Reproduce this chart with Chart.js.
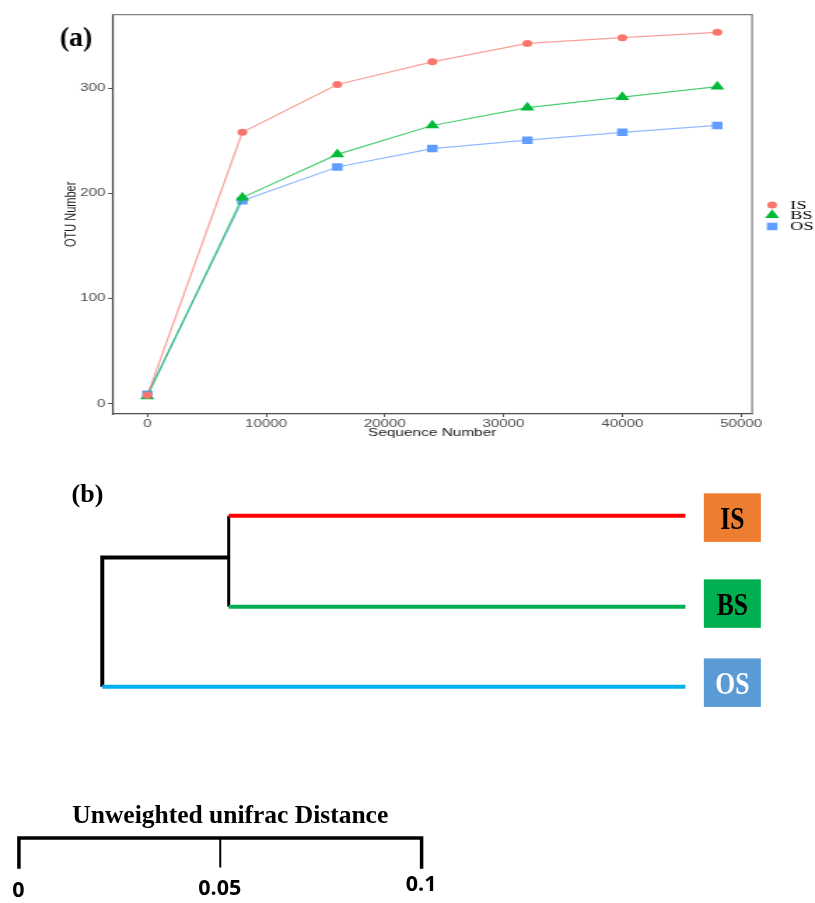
<!DOCTYPE html>
<html>
<head>
<meta charset="utf-8">
<script src="https://cdn.jsdelivr.net/npm/chart.js@4.4.1/dist/chart.umd.min.js"></script>
<style>
  html, body { margin: 0; padding: 0; background: #fff; }
  body { width: 815px; height: 903px; position: relative; overflow: hidden; }
  /* panel (a) is stretched sideways in the original figure */
  #wrapA { position: absolute; left: 0; top: 0; width: 582px; height: 450px; transform: scaleX(1.4003); transform-origin: 0 0; }
  #wrapB { position: absolute; left: 0; top: 450px; width: 815px; height: 453px; }
</style>
</head>
<body>
<div id="wrapA"><canvas id="rarefaction" width="582" height="450"></canvas></div>
<div id="wrapB"><canvas id="cluster" width="815" height="453"></canvas></div>
<script>
// --- (a) rarefaction curves ---
const seqNumbers = [0, 8000, 16000, 24000, 32000, 40000, 48000];
const otuIS = [8, 258, 303.5, 325, 342.5, 348, 353];
const otuBS = [7, 196, 237, 264.5, 281.5, 291.5, 301.5];
const otuOS = [9, 193, 225, 242.5, 250.5, 258, 264.5];
const sampleNames = ['IS', 'BS', 'OS'];
const xTickValues = [0, 10000, 20000, 30000, 40000, 50000];
const yTickValues = [0, 100, 200, 300];

// --- (b) clustering tree, unweighted unifrac distance ---
const rootX = 0.0207;                 // where the tree starts on the distance axis
const joinX = rootX + 0.0314;         // IS + BS join
const leafEnd = [joinX + 0.1134, joinX + 0.1134, rootX + 0.1448]; // IS, BS, OS
const leafRows = [1, 2.064, 3];       // IS, BS, OS
const joinRow = 1.49;
const scaleBarTicks = [0, 0.05, 0.1];
const scaleBarLabels = ['0', '0.05', '0.1'];
const scaleBarRow = 4.77;
const scaleBarTitle = 'Unweighted unifrac Distance';

const colIS = '#F8766D', colBS = '#00BA38', colOS = '#619CFF';
const STRETCH = 1.4003;

function fade(hex, a) {
    const n = parseInt(hex.slice(1), 16);
    return 'rgba(' + (n >> 16) + ',' + ((n >> 8) & 255) + ',' + (n & 255) + ',' + a + ')';
}

function curve(label, values, color, style, radius) {
    return {
        label: label,
        data: values.map((v, i) => ({ x: seqNumbers[i], y: v })),
        borderColor: fade(color, 0.7),
        backgroundColor: color,
        pointBackgroundColor: color,
        pointBorderWidth: 0,
        pointStyle: style,
        pointRadius: radius,
        borderWidth: 1.2,
        tension: 0
    };
}

const frameA = {
    id: 'frameA',
    afterDraw(chart) {
        const ctx = chart.ctx, a = chart.chartArea;
        ctx.save();
        // top + right border
        ctx.strokeStyle = '#7f7f7f';
        ctx.lineWidth = 1.2;
        ctx.beginPath();
        ctx.moveTo(a.left, a.top);
        ctx.lineTo(a.right, a.top);
        ctx.lineTo(a.right, a.bottom);
        ctx.stroke();

        // legend (drawn by hand, tight like the original)
        const legY = [205, 215, 226.5];
        chart.data.datasets.forEach((ds, i) => {
            ctx.fillStyle = ds.pointBackgroundColor;
            Chart.helpers.drawPoint(ctx, { pointStyle: ds.pointStyle, radius: ds.pointRadius, rotation: 0, borderWidth: 0 }, 551.4, legY[i]);
            ctx.fillStyle = '#000';
            ctx.font = '13px "Liberation Serif"';
            ctx.textAlign = 'left';
            ctx.textBaseline = 'middle';
            ctx.fillText(ds.label, 564.3, legY[i] + 0.5);
        });

        // panel letter, not stretched
        ctx.translate(54.3, 39);
        ctx.scale(1 / STRETCH, 1);
        ctx.font = 'bold 28px "Liberation Serif"';
        ctx.textAlign = 'center';
        ctx.textBaseline = 'middle';
        ctx.fillText('(a)', 0, 0);
        ctx.restore();
    }
};

new Chart(document.getElementById('rarefaction'), {
    type: 'line',
    data: {
        datasets: [
            curve(sampleNames[0], otuIS, colIS, 'circle', 3.5),
            curve(sampleNames[1], otuBS, colBS, 'triangle', 5.8),
            curve(sampleNames[2], otuOS, colOS, 'rect', 5.3)
        ]
    },
    options: {
        responsive: false,
        animation: false,
        events: [],
        layout: { padding: { top: 14.7, right: 44.9, left: 0, bottom: 0 } },
        plugins: { legend: { display: false }, tooltip: { enabled: false } },
        scales: {
            x: {
                type: 'linear', min: -2950, max: 50930,
                afterFit: (s) => { s.height = 36; },
                afterBuildTicks: (s) => { s.ticks = xTickValues.map(v => ({ value: v })); },
                border: { display: true, color: '#4d4d4d', width: 1.2 },
                grid: { display: true, drawOnChartArea: false, drawTicks: true, tickLength: 3, color: '#4d4d4d' },
                ticks: {
                    autoSkip: false, maxRotation: 0, padding: 1,
                    color: '#4d4d4d', font: { family: 'Liberation Sans', size: 10.8 },
                    callback: (v) => String(v)
                },
                title: {
                    display: true, text: 'Sequence Number', color: '#1a1a1a',
                    font: { family: 'Liberation Sans', size: 11 }, padding: { top: 0, bottom: 10.4 }
                }
            },
            y: {
                min: -9.8, max: 369.8,
                afterFit: (s) => { s.width = 80.2; },
                afterBuildTicks: (s) => { s.ticks = yTickValues.map(v => ({ value: v })); },
                border: { display: true, color: '#4d4d4d', width: 1.2 },
                grid: { display: true, drawOnChartArea: false, drawTicks: true, tickLength: 3, color: '#4d4d4d' },
                ticks: {
                    padding: 2,
                    color: '#4d4d4d', font: { family: 'Liberation Sans', size: 10.8 },
                    callback: (v) => String(v)
                },
                title: {
                    display: true, text: 'OTU Number', color: '#1a1a1a',
                    font: { family: 'Liberation Sans', size: 11 }, padding: { top: 44.8, bottom: 0 }
                }
            }
        }
    },
    plugins: [frameA]
});

// --- (b) ---
function seg(points, color, width) {
    return {
        data: points.map(p => ({ x: p[0], y: p[1] })),
        showLine: true, borderColor: color, borderWidth: width,
        pointRadius: 0, borderCapStyle: 'butt', borderJoinStyle: 'miter', fill: false
    };
}

const branchColors = ['#ff0000', '#00b050', '#00b0f0'];
const boxColors = ['#ed7d31', '#00b050', '#5b9bd5'];
const boxText = ['#000', '#000', '#fff'];
const boxShift = [2, -3, -4];

const treeDecor = {
    id: 'treeDecor',
    afterDraw(chart) {
        const ctx = chart.ctx, xs = chart.scales.x, ys = chart.scales.y;
        ctx.save();
        ctx.fillStyle = '#000';
        ctx.font = 'bold 26px "Liberation Serif"';
        ctx.textAlign = 'center';
        ctx.textBaseline = 'middle';
        ctx.fillText('(b)', 87.5, 45);

        // sample boxes at the leaf ends
        const bx = Math.max.apply(null, leafEnd.map(v => xs.getPixelForValue(v))) + 18.5;
        leafRows.forEach((r, i) => {
            const cy = ys.getPixelForValue(r) + boxShift[i];
            ctx.fillStyle = boxColors[i];
            ctx.fillRect(bx, cy - 24.3, 57, 48.5);
            ctx.save();
            ctx.translate(bx + 28.5, cy + 11);
            ctx.scale(0.8, 1);
            ctx.fillStyle = boxText[i];
            ctx.font = 'bold 32px "Liberation Serif"';
            ctx.textAlign = 'center';
            ctx.textBaseline = 'alphabetic';
            ctx.fillText(sampleNames[i], 0, 0);
            ctx.restore();
        });

        // scale bar texts
        const barY = ys.getPixelForValue(scaleBarRow);
        const x0 = xs.getPixelForValue(scaleBarTicks[0]);
        const x1 = xs.getPixelForValue(scaleBarTicks[scaleBarTicks.length - 1]);
        ctx.fillStyle = '#000';
        ctx.font = 'bold 25.5px "Liberation Serif"';
        ctx.textBaseline = 'alphabetic';
        ctx.fillText(scaleBarTitle, (x0 + x1) / 2 + 10, barY - 15);

        const drop = [53, 51, 47];
        ctx.font = 'bold 21.5px "Open Sans"';
        ctx.textBaseline = 'middle';
        scaleBarTicks.forEach((t, i) => {
            ctx.fillText(scaleBarLabels[i], xs.getPixelForValue(t) - 0.5, barY + drop[i]);
        });
        ctx.restore();
    }
};

new Chart(document.getElementById('cluster'), {
    type: 'scatter',
    data: {
        datasets: [
            seg([[joinX, leafRows[0]], [leafEnd[0], leafRows[0]]], branchColors[0], 4),
            seg([[joinX, leafRows[1]], [leafEnd[1], leafRows[1]]], branchColors[1], 4),
            seg([[rootX, leafRows[2]], [leafEnd[2], leafRows[2]]], branchColors[2], 4),
            seg([[joinX, leafRows[0]], [joinX, leafRows[1]]], '#000', 3),
            seg([[joinX, joinRow], [rootX, joinRow], [rootX, leafRows[2]]], '#000', 4),
            // scale bar
            seg([[scaleBarTicks[0], scaleBarRow + 0.36], [scaleBarTicks[0], scaleBarRow],
                 [scaleBarTicks[2], scaleBarRow], [scaleBarTicks[2], scaleBarRow + 0.36]], '#000', 3.5),
            seg([[scaleBarTicks[1], scaleBarRow], [scaleBarTicks[1], scaleBarRow + 0.345]], '#000', 2)
        ]
    },
    options: {
        responsive: false,
        animation: false,
        events: [],
        layout: { padding: 0 },
        plugins: { legend: { display: false }, tooltip: { enabled: false } },
        scales: {
            x: { type: 'linear', display: false, min: -0.0047, max: 0.1977 },
            y: { type: 'linear', display: false, min: 0.2316, max: 5.53, reverse: true }
        }
    },
    plugins: [treeDecor]
});
</script>
</body>
</html>
